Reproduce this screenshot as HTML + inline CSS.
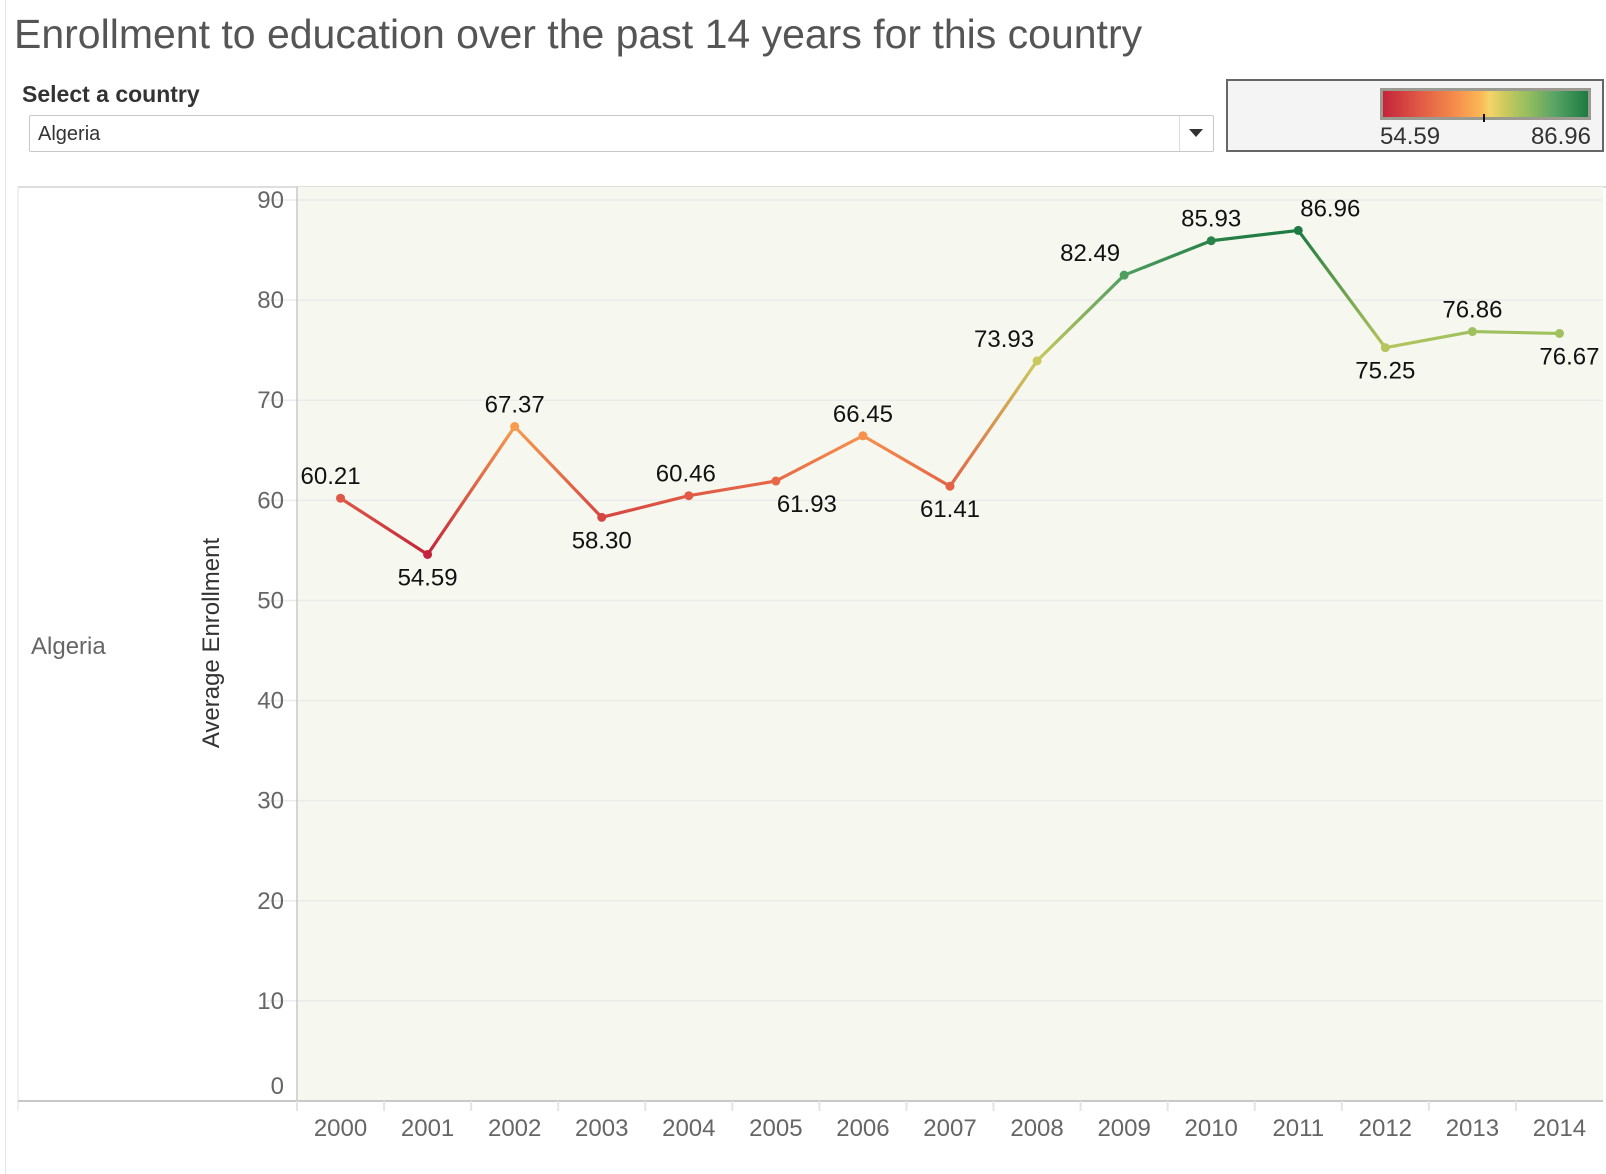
<!DOCTYPE html>
<html><head><meta charset="utf-8"><style>
body{margin:0;width:1606px;height:1174px;background:#fff;font-family:"Liberation Sans",sans-serif;position:relative;overflow:hidden}
.abs{position:absolute}
</style></head><body>
<div class="abs" style="left:5px;top:0;width:1px;height:1174px;background:#e4e4e4"></div>
<div class="abs" style="left:14px;top:11px;font-size:41px;color:#555;white-space:nowrap">Enrollment to education over the past 14 years for this country</div>
<div class="abs" style="left:22px;top:81px;font-size:23px;font-weight:bold;color:#333">Select a country</div>
<div class="abs" style="left:29px;top:115px;width:1185px;height:37px;border:1px solid #c8c8c8;border-radius:2px;box-sizing:border-box">
  <span style="position:absolute;left:8px;top:7px;font-size:20px;color:#333">Algeria</span>
  <div style="position:absolute;right:33px;top:0;width:1px;height:35px;background:#ddd"></div>
  <div style="position:absolute;right:10px;top:13px;width:0;height:0;border-left:7px solid transparent;border-right:7px solid transparent;border-top:8px solid #333"></div>
</div>
<div class="abs" style="left:1226px;top:79px;width:378px;height:73px;border:2px solid #666;background:#f4f4f4;box-sizing:border-box">
  <div style="position:absolute;left:152px;top:7px;width:211px;height:32px;border:3px solid #9a9a90;box-sizing:border-box;background:linear-gradient(to right,#c4243b 0%,#e05a45 18%,#f58c4b 35%,#fbb957 48%,#f5d46a 52%,#c9c95c 60%,#98bf5e 70%,#58a365 84%,#1d7a40 100%)"></div>
  <div style="position:absolute;left:255px;top:33px;width:2px;height:8px;background:#111"></div>
  <div style="position:absolute;left:152px;top:42px;font-size:24px;color:#333">54.59</div>
  <div style="position:absolute;right:11px;top:42px;font-size:24px;color:#333">86.96</div>
</div>
<svg class="abs" style="left:0;top:0" width="1606" height="1174" id="chart"></svg>
<script>
const years=["2000","2001","2002","2003","2004","2005","2006","2007","2008","2009","2010","2011","2012","2013","2014"];
const values=[60.21,54.59,67.37,58.30,60.46,61.93,66.45,61.41,73.93,82.49,85.93,86.96,75.25,76.86,76.67];
const labelPos=["a","b","a","b","a","b","a","b","a","a","a","a","b","a","b"];
const labelShift=[-10,0,0,0,-3,31,0,0,-33,-34,0,32,0,0,10];
const yTicks=[0,10,20,30,40,50,60,70,80,90];
const NS="http://www.w3.org/2000/svg";
const svg=document.getElementById('chart');
const L=297,R=1603,T=187,B=1101,bw=(R-L)/years.length;
const x=i=>L+bw*(i+0.5);
const y=v=>B-v*(B-200)/90;
const vmin=Math.min(...values),vmax=Math.max(...values);
const stops=[[0,[196,36,59]],[0.18,[224,90,69]],[0.35,[245,140,75]],[0.48,[251,185,87]],[0.52,[245,212,106]],[0.6,[201,201,92]],[0.7,[152,191,94]],[0.84,[88,163,101]],[1,[29,122,64]]];
function col(v){const t=(v-vmin)/(vmax-vmin);for(let k=1;k<stops.length;k++){if(t<=stops[k][0]){const a=stops[k-1],b=stops[k];const f=(t-a[0])/(b[0]-a[0]);return 'rgb('+a[1].map((c,j)=>Math.round(c+(b[1][j]-c)*f)).join(',')+')';}}return 'rgb(29,122,64)';}
function el(tag,attrs){const e=document.createElementNS(NS,tag);for(const k in attrs)e.setAttribute(k,attrs[k]);svg.appendChild(e);return e;}
let e;
e=el('line',{x1:18,y1:T,x2:1606,y2:T,stroke:'#d4d4d4','stroke-width':1.5});


e=el('rect',{x:L,y:T,width:R-L,height:B-T,fill:'#f6f8f0'});


e=el('line',{x1:18,y1:T,x2:18,y2:B+10,stroke:'#e0e0e0','stroke-width':1});


yTicks.forEach(t=>{
  if(t>0){e=el('line',{x1:L-30,y1:y(t),x2:R,y2:y(t),stroke:'#ebebeb','stroke-width':1.5});
  
  }
  e=el('text',{x:284,y:y(t)+(t===0?-7:8),'text-anchor':'end','font-size':24,fill:'#666'});e.textContent=t;
  
  
});
e=el('line',{x1:L,y1:T,x2:L,y2:B,stroke:'#c8c8c8','stroke-width':1.5});


e=el('line',{x1:18,y1:B,x2:R,y2:B,stroke:'#c8c8c8','stroke-width':2});


years.forEach((yr,i)=>{
  e=el('line',{x1:L+bw*i,y1:B,x2:L+bw*i,y2:B+10,stroke:'#e4e4e4','stroke-width':2});
  
  
  e=el('text',{x:x(i),y:B+35,'text-anchor':'middle','font-size':24,fill:'#666'});e.textContent=yr;
  
  
});
e=el('text',{x:0,y:0,'text-anchor':'middle','font-size':24,fill:'#333',transform:'translate(219,643) rotate(-90)'});e.textContent='Average Enrollment';


e=el('text',{x:31,y:654,'font-size':24,fill:'#666'});e.textContent='Algeria';


const defs=el('defs',{});
for(let i=0;i<values.length-1;i++){
  const g=document.createElementNS(NS,'linearGradient');
  g.setAttribute('id','g'+i);g.setAttribute('gradientUnits','userSpaceOnUse');
  g.setAttribute('x1',x(i));g.setAttribute('y1',y(values[i]));g.setAttribute('x2',x(i+1));g.setAttribute('y2',y(values[i+1]));
  const s1=document.createElementNS(NS,'stop');s1.setAttribute('offset','0');s1.setAttribute('stop-color',col(values[i]));
  const s2=document.createElementNS(NS,'stop');s2.setAttribute('offset','1');s2.setAttribute('stop-color',col(values[i+1]));
  g.appendChild(s1);g.appendChild(s2);defs.appendChild(g);
  e=el('line',{x1:x(i),y1:y(values[i]),x2:x(i+1),y2:y(values[i+1]),stroke:'url(#g'+i+')','stroke-width':3.2,'stroke-linecap':'round'});
  
  
}
values.forEach((v,i)=>{
  e=el('circle',{cx:x(i),cy:y(v),r:4.5,fill:col(v)});
  
  
  const lx=x(i)+labelShift[i];
  const ly=labelPos[i]==='a'?y(v)-14:y(v)+31;
  e=el('text',{x:lx,y:ly,'text-anchor':'middle','font-size':24,fill:'#111'});e.textContent=v.toFixed(2);
  
  
});
</script>
</body></html>
